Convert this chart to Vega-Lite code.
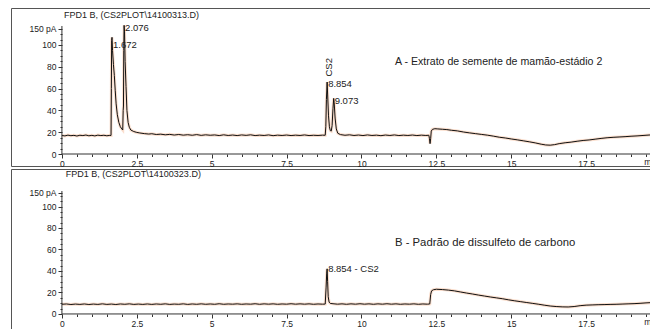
{
  "$schema": "https://vega.github.io/schema/vega-lite/v6.json",
  "padding": {"left": 10, "top": 7, "right": 0, "bottom": 0},
  "background": "white",
  "spacing": 0,
  "config": {
    "font": "Liberation Sans",
    "view": {"stroke": "#555", "strokeWidth": 1},
    "axis": {"labelFont": "Liberation Sans", "labelColor": "#222", "tickColor": "#333", "labelFontSize": 8.5, "grid": false, "domain": false, "title": null, "labelOverlap": false},
    "text": {"font": "Liberation Sans", "color": "#222"}
  },
  "datasets": {
    "A": [
      {"t":0,"v":17.0},{"t":0.1,"v":16.6},{"t":0.2,"v":17.3},{"t":0.3,"v":16.8},{"t":0.4,"v":17.1},{"t":0.5,"v":16.5},{"t":0.6,"v":17.2},{"t":0.7,"v":16.9},{"t":0.8,"v":17.4},{"t":0.9,"v":16.7},{"t":1.0,"v":17.1},{"t":1.1,"v":16.6},{"t":1.2,"v":17.3},{"t":1.3,"v":16.9},{"t":1.4,"v":17.2},{"t":1.5,"v":16.7},{"t":1.6,"v":17.1},{"t":1.64,"v":17.0},
      {"t":1.65,"v":60},{"t":1.66,"v":104},{"t":1.672,"v":107},{"t":1.69,"v":95},{"t":1.72,"v":82},{"t":1.75,"v":72},{"t":1.78,"v":58},{"t":1.81,"v":46},{"t":1.85,"v":36},{"t":1.9,"v":29},{"t":1.95,"v":25},{"t":2.0,"v":23},{"t":2.03,"v":22},
      {"t":2.045,"v":40},{"t":2.055,"v":44},{"t":2.065,"v":95},{"t":2.076,"v":118},{"t":2.09,"v":112},{"t":2.11,"v":85},{"t":2.14,"v":62},{"t":2.17,"v":40},{"t":2.21,"v":29},{"t":2.25,"v":24.5},{"t":2.3,"v":22},{"t":2.4,"v":20.6},{"t":2.5,"v":19.8},{"t":2.6,"v":19.3},{"t":2.75,"v":18.7},{"t":2.9,"v":18.3},
      {"t":3.0,"v":18.6},{"t":3.15,"v":17.9},{"t":3.3,"v":18.2},{"t":3.45,"v":17.6},{"t":3.6,"v":18.0},{"t":3.75,"v":17.4},{"t":3.9,"v":17.9},{"t":4.05,"v":17.3},{"t":4.2,"v":17.7},{"t":4.35,"v":17.2},{"t":4.5,"v":17.8},{"t":4.65,"v":17.1},{"t":4.8,"v":17.6},{"t":4.95,"v":17.2},{"t":5.1,"v":17.5},{"t":5.25,"v":16.9},{"t":5.4,"v":17.6},{"t":5.55,"v":17.0},{"t":5.7,"v":17.4},{"t":5.85,"v":16.9},{"t":6.0,"v":17.5},{"t":6.15,"v":17.1},{"t":6.3,"v":17.6},{"t":6.45,"v":16.9},{"t":6.6,"v":17.3},{"t":6.75,"v":17.0},{"t":6.9,"v":17.5},{"t":7.05,"v":16.8},{"t":7.2,"v":17.3},{"t":7.35,"v":17.0},{"t":7.5,"v":17.4},{"t":7.65,"v":16.9},{"t":7.8,"v":17.3},{"t":7.95,"v":17.0},{"t":8.1,"v":17.5},{"t":8.25,"v":16.9},{"t":8.4,"v":17.2},{"t":8.55,"v":17.0},{"t":8.7,"v":17.3},{"t":8.79,"v":17.2},
      {"t":8.81,"v":25},{"t":8.83,"v":50},{"t":8.854,"v":66},{"t":8.87,"v":55},{"t":8.9,"v":35},{"t":8.93,"v":25},{"t":8.96,"v":21.5},{"t":8.99,"v":21},{"t":9.02,"v":26},{"t":9.05,"v":42},{"t":9.073,"v":51},{"t":9.09,"v":47},{"t":9.12,"v":33},{"t":9.16,"v":23},{"t":9.21,"v":19},{"t":9.3,"v":17.8},
      {"t":9.45,"v":17.2},{"t":9.6,"v":17.6},{"t":9.75,"v":17.0},{"t":9.9,"v":17.4},{"t":10.05,"v":16.9},{"t":10.2,"v":17.5},{"t":10.35,"v":17.0},{"t":10.5,"v":17.3},{"t":10.65,"v":16.8},{"t":10.8,"v":17.4},{"t":10.95,"v":17.0},{"t":11.1,"v":17.5},{"t":11.25,"v":16.9},{"t":11.4,"v":17.3},{"t":11.55,"v":17.0},{"t":11.7,"v":17.4},{"t":11.85,"v":16.9},{"t":12.0,"v":17.3},{"t":12.15,"v":17.0},{"t":12.25,"v":17.2},
      {"t":12.27,"v":14},{"t":12.29,"v":9.5},{"t":12.31,"v":14},{"t":12.33,"v":21},{"t":12.37,"v":22.6},{"t":12.45,"v":23.2},{"t":12.55,"v":23.0},{"t":12.7,"v":22.7},{"t":12.85,"v":22.4},{"t":13.0,"v":21.8},{"t":13.2,"v":21.2},{"t":13.4,"v":20.2},{"t":13.6,"v":19.4},{"t":13.8,"v":18.7},{"t":14.0,"v":18.0},{"t":14.2,"v":17.3},{"t":14.4,"v":16.4},{"t":14.6,"v":15.4},{"t":14.8,"v":14.7},{"t":15.0,"v":13.8},{"t":15.2,"v":13.0},{"t":15.4,"v":12.1},{"t":15.6,"v":11.2},{"t":15.8,"v":10.2},{"t":16.0,"v":9.0},{"t":16.15,"v":8.3},{"t":16.3,"v":8.1},{"t":16.45,"v":8.6},{"t":16.6,"v":9.5},{"t":16.8,"v":10.3},{"t":17.0,"v":10.9},{"t":17.2,"v":11.7},{"t":17.4,"v":12.4},{"t":17.6,"v":12.9},{"t":17.8,"v":13.6},{"t":18.0,"v":14.3},{"t":18.2,"v":14.9},{"t":18.4,"v":15.3},{"t":18.6,"v":15.6},{"t":18.8,"v":15.9},{"t":19.0,"v":16.3},{"t":19.2,"v":16.6},{"t":19.4,"v":17.0},{"t":19.6,"v":17.4},{"t":19.8,"v":17.7},{"t":20.0,"v":17.9}
    ],
    "B": [
      {"t":0,"v":9.0},{"t":0.15,"v":9.3},{"t":0.3,"v":8.8},{"t":0.45,"v":9.2},{"t":0.6,"v":8.9},{"t":0.75,"v":9.3},{"t":0.9,"v":8.8},{"t":1.05,"v":9.2},{"t":1.2,"v":8.9},{"t":1.35,"v":9.4},{"t":1.5,"v":8.9},{"t":1.65,"v":9.2},{"t":1.8,"v":8.8},{"t":1.95,"v":9.3},{"t":2.1,"v":9.0},{"t":2.25,"v":9.4},{"t":2.4,"v":8.9},{"t":2.55,"v":9.2},{"t":2.7,"v":8.9},{"t":2.85,"v":9.3},{"t":3.0,"v":8.9},{"t":3.15,"v":9.3},{"t":3.3,"v":9.0},{"t":3.45,"v":9.4},{"t":3.6,"v":8.9},{"t":3.75,"v":9.2},{"t":3.9,"v":9.0},{"t":4.05,"v":9.4},{"t":4.2,"v":8.9},{"t":4.35,"v":9.3},{"t":4.5,"v":9.0},{"t":4.65,"v":9.4},{"t":4.8,"v":9.0},{"t":4.95,"v":9.3},{"t":5.1,"v":9.0},{"t":5.25,"v":9.5},{"t":5.4,"v":9.0},{"t":5.55,"v":9.3},{"t":5.7,"v":9.1},{"t":5.85,"v":9.4},{"t":6.0,"v":9.0},{"t":6.15,"v":9.3},{"t":6.3,"v":9.1},{"t":6.45,"v":9.5},{"t":6.6,"v":9.0},{"t":6.75,"v":9.4},{"t":6.9,"v":9.1},{"t":7.05,"v":9.4},{"t":7.2,"v":9.0},{"t":7.35,"v":9.3},{"t":7.5,"v":9.1},{"t":7.65,"v":9.5},{"t":7.8,"v":9.1},{"t":7.95,"v":9.4},{"t":8.1,"v":9.1},{"t":8.25,"v":9.4},{"t":8.4,"v":9.0},{"t":8.55,"v":9.3},{"t":8.7,"v":9.1},{"t":8.79,"v":9.2},
      {"t":8.82,"v":25},{"t":8.84,"v":38},{"t":8.854,"v":42},{"t":8.87,"v":30},{"t":8.89,"v":16},{"t":8.92,"v":11},{"t":8.96,"v":9.8},{"t":9.05,"v":9.5},
      {"t":9.2,"v":9.1},{"t":9.35,"v":9.4},{"t":9.5,"v":9.0},{"t":9.65,"v":9.4},{"t":9.8,"v":9.1},{"t":9.95,"v":9.5},{"t":10.1,"v":9.1},{"t":10.25,"v":9.4},{"t":10.4,"v":9.0},{"t":10.55,"v":9.4},{"t":10.7,"v":9.1},{"t":10.85,"v":9.5},{"t":11.0,"v":9.1},{"t":11.15,"v":9.4},{"t":11.3,"v":9.0},{"t":11.45,"v":9.3},{"t":11.6,"v":9.1},{"t":11.75,"v":9.4},{"t":11.9,"v":9.0},{"t":12.05,"v":9.3},{"t":12.2,"v":9.1},{"t":12.28,"v":9.3},
      {"t":12.31,"v":18},{"t":12.34,"v":21.5},{"t":12.4,"v":22.5},{"t":12.5,"v":23},{"t":12.7,"v":22.7},{"t":12.9,"v":22.2},{"t":13.1,"v":21.5},{"t":13.3,"v":20.5},{"t":13.5,"v":19.5},{"t":13.7,"v":18.6},{"t":13.9,"v":17.6},{"t":14.1,"v":16.7},{"t":14.3,"v":15.8},{"t":14.5,"v":15.0},{"t":14.7,"v":14.2},{"t":14.9,"v":13.2},{"t":15.1,"v":12.3},{"t":15.3,"v":11.5},{"t":15.5,"v":10.7},{"t":15.7,"v":9.9},{"t":15.9,"v":9.1},{"t":16.1,"v":8.2},{"t":16.3,"v":7.4},{"t":16.5,"v":6.9},{"t":16.7,"v":6.6},{"t":16.9,"v":6.5},{"t":17.1,"v":6.9},{"t":17.3,"v":7.7},{"t":17.5,"v":8.2},{"t":17.7,"v":8.4},{"t":17.9,"v":8.6},{"t":18.1,"v":8.7},{"t":18.3,"v":8.9},{"t":18.5,"v":9.0},{"t":18.7,"v":9.2},{"t":18.9,"v":9.4},{"t":19.1,"v":9.6},{"t":19.3,"v":9.9},{"t":19.5,"v":10.3},{"t":19.7,"v":10.6},{"t":19.9,"v":10.9},{"t":20.0,"v":11.0}
    ],
    "peaksA": [
      {"t":1.672,"v":100,"label":"1.672"},
      {"t":2.076,"v":115.5,"label":"2.076"},
      {"t":8.854,"v":64,"label":"8.854"},
      {"t":9.073,"v":48.5,"label":"9.073"}
    ],
    "peaksB": [
      {"t":8.854,"v":41.9,"label":"8.854 -  CS2"}
    ]
  },
  "vconcat": [
    {
      "width": 650,
      "height": 158,
      "layer": [
        {
          "data": {"name": "A"},
          "mark": {"type": "line", "color": "#f0a070", "strokeWidth": 3, "opacity": 0.35, "clip": true},
          "encoding": {
            "x": {"field": "t", "type": "quantitative", "scale": {"domain": [-1.7, 20], "nice": false, "zero": false},
              "axis": {"orient": "bottom", "offset": -12, "labelOverlap": false, "labelFlush": false, "tickCount": 200,
                "values": [0,0.5,1,1.5,2,2.5,3,3.5,4,4.5,5,5.5,6,6.5,7,7.5,8,8.5,9,9.5,10,10.5,11,11.5,12,12.5,13,13.5,14,14.5,15,15.5,16,16.5,17,17.5,18,18.5,19,19.5,19.65],
                "labelExpr": "datum.value == 19.65 ? 'min' : (datum.value % 2.5 == 0 ? format(datum.value, '') : '')",
                "tickSize": {"condition": {"test": "datum.value % 2.5 == 0", "value": 4}, "value": 2.5},
                "tickOpacity": {"condition": {"test": "datum.value == 19.65", "value": 0}, "value": 1},
                "labelPadding": 1}},
            "y": {"field": "v", "type": "quantitative", "scale": {"domain": [-11, 133.9], "nice": false, "zero": false},
              "axis": {"orient": "left", "offset": -51, "labelOverlap": false, "tickCount": 200,
                "values": [0,5,10,15,20,25,30,35,40,45,50,55,60,65,70,75,80,85,90,95,100,105,110,115],
                "labelExpr": "datum.value == 115 ? '150 pA' : (datum.value % 20 == 0 ? format(datum.value, '') : '')",
                "tickSize": {"condition": {"test": "datum.value % 20 == 0 || datum.value == 115", "value": 4}, "value": 2},
                "labelPadding": 2}}
          }
        },
        {
          "data": {"name": "A"},
          "mark": {"type": "line", "color": "#111", "strokeWidth": 1, "clip": true},
          "encoding": {
            "x": {"field": "t", "type": "quantitative"},
            "y": {"field": "v", "type": "quantitative"}
          }
        },
        {
          "data": {"name": "peaksA"},
          "mark": {"type": "text", "align": "left", "baseline": "middle", "dx": 1, "fontSize": 9.5},
          "encoding": {
            "x": {"field": "t", "type": "quantitative"},
            "y": {"field": "v", "type": "quantitative"},
            "text": {"field": "label"}
          }
        },
        {
          "data": {"values": [{}]},
          "mark": {"type": "rule", "color": "#333"},
          "encoding": {"x": {"datum": 0, "type": "quantitative"}, "x2": {"datum": 20}, "y": {"datum": 0, "type": "quantitative"}}
        },
        {
          "data": {"values": [{}]},
          "mark": {"type": "rule", "color": "#333"},
          "encoding": {"x": {"datum": 0, "type": "quantitative"}, "y": {"datum": 0, "type": "quantitative"}, "y2": {"datum": 117.4}}
        },
        {
          "data": {"values": [{}]},
          "mark": {"type": "text", "align": "left", "baseline": "middle", "fontSize": 9},
          "encoding": {"x": {"datum": 0.07, "type": "quantitative"}, "y": {"datum": 127.5, "type": "quantitative"}, "text": {"value": "FPD1 B, (CS2PLOT\\14100313.D)"}}
        },
        {
          "data": {"values": [{}]},
          "mark": {"type": "text", "angle": 270, "align": "center", "baseline": "middle", "fontSize": 9.5},
          "encoding": {"x": {"datum": 8.9, "type": "quantitative"}, "y": {"datum": 79.5, "type": "quantitative"}, "text": {"value": "CS2"}}
        },
        {
          "data": {"values": [{}]},
          "mark": {"type": "text", "align": "left", "baseline": "middle", "fontSize": 10.6},
          "encoding": {"x": {"datum": 11.12, "type": "quantitative"}, "y": {"datum": 84.4, "type": "quantitative"}, "text": {"value": "A - Extrato de semente de mamão-estádio 2"}}
        }
      ]
    },
    {
      "width": 650,
      "height": 160,
      "layer": [
        {
          "data": {"name": "B"},
          "mark": {"type": "line", "color": "#f0a070", "strokeWidth": 3, "opacity": 0.35, "clip": true},
          "encoding": {
            "x": {"field": "t", "type": "quantitative", "scale": {"domain": [-1.7, 20], "nice": false, "zero": false},
              "axis": {"orient": "bottom", "offset": -15, "labelOverlap": false, "labelFlush": false, "tickCount": 200,
                "values": [0,0.5,1,1.5,2,2.5,3,3.5,4,4.5,5,5.5,6,6.5,7,7.5,8,8.5,9,9.5,10,10.5,11,11.5,12,12.5,13,13.5,14,14.5,15,15.5,16,16.5,17,17.5,18,18.5,19,19.5,19.65],
                "labelExpr": "datum.value == 19.65 ? 'min' : (datum.value % 2.5 == 0 ? format(datum.value, '') : '')",
                "tickSize": {"condition": {"test": "datum.value % 2.5 == 0", "value": 4}, "value": 2.5},
                "tickOpacity": {"condition": {"test": "datum.value == 19.65", "value": 0}, "value": 1},
                "labelPadding": 1}},
            "y": {"field": "v", "type": "quantitative", "scale": {"domain": [-14, 134.9], "nice": false, "zero": false},
              "axis": {"orient": "left", "offset": -51, "labelOverlap": false, "tickCount": 200,
                "values": [0,5,10,15,20,25,30,35,40,45,50,55,60,65,70,75,80,85,90,95,100,105,110,113],
                "labelExpr": "datum.value == 113 ? '150 pA' : (datum.value % 20 == 0 ? format(datum.value, '') : '')",
                "tickSize": {"condition": {"test": "datum.value % 20 == 0 || datum.value == 113", "value": 4}, "value": 2},
                "labelPadding": 2}}
          }
        },
        {
          "data": {"name": "B"},
          "mark": {"type": "line", "color": "#111", "strokeWidth": 1, "clip": true},
          "encoding": {
            "x": {"field": "t", "type": "quantitative"},
            "y": {"field": "v", "type": "quantitative"}
          }
        },
        {
          "data": {"name": "peaksB"},
          "mark": {"type": "text", "align": "left", "baseline": "middle", "dx": 1, "fontSize": 9.5},
          "encoding": {
            "x": {"field": "t", "type": "quantitative"},
            "y": {"field": "v", "type": "quantitative"},
            "text": {"field": "label"}
          }
        },
        {
          "data": {"values": [{}]},
          "mark": {"type": "rule", "color": "#333"},
          "encoding": {"x": {"datum": 0, "type": "quantitative"}, "x2": {"datum": 20}, "y": {"datum": 0, "type": "quantitative"}}
        },
        {
          "data": {"values": [{}]},
          "mark": {"type": "rule", "color": "#333"},
          "encoding": {"x": {"datum": 0, "type": "quantitative"}, "y": {"datum": 0, "type": "quantitative"}, "y2": {"datum": 114.4}}
        },
        {
          "data": {"values": [{}]},
          "mark": {"type": "text", "align": "left", "baseline": "middle", "fontSize": 9},
          "encoding": {"x": {"datum": 0.13, "type": "quantitative"}, "y": {"datum": 130.3, "type": "quantitative"}, "text": {"value": "FPD1 B, (CS2PLOT\\14100323.D)"}}
        },
        {
          "data": {"values": [{}]},
          "mark": {"type": "text", "align": "left", "baseline": "middle", "fontSize": 11.3},
          "encoding": {"x": {"datum": 11.12, "type": "quantitative"}, "y": {"datum": 66, "type": "quantitative"}, "text": {"value": "B - Padrão de dissulfeto de carbono"}}
        }
      ]
    }
  ]
}
